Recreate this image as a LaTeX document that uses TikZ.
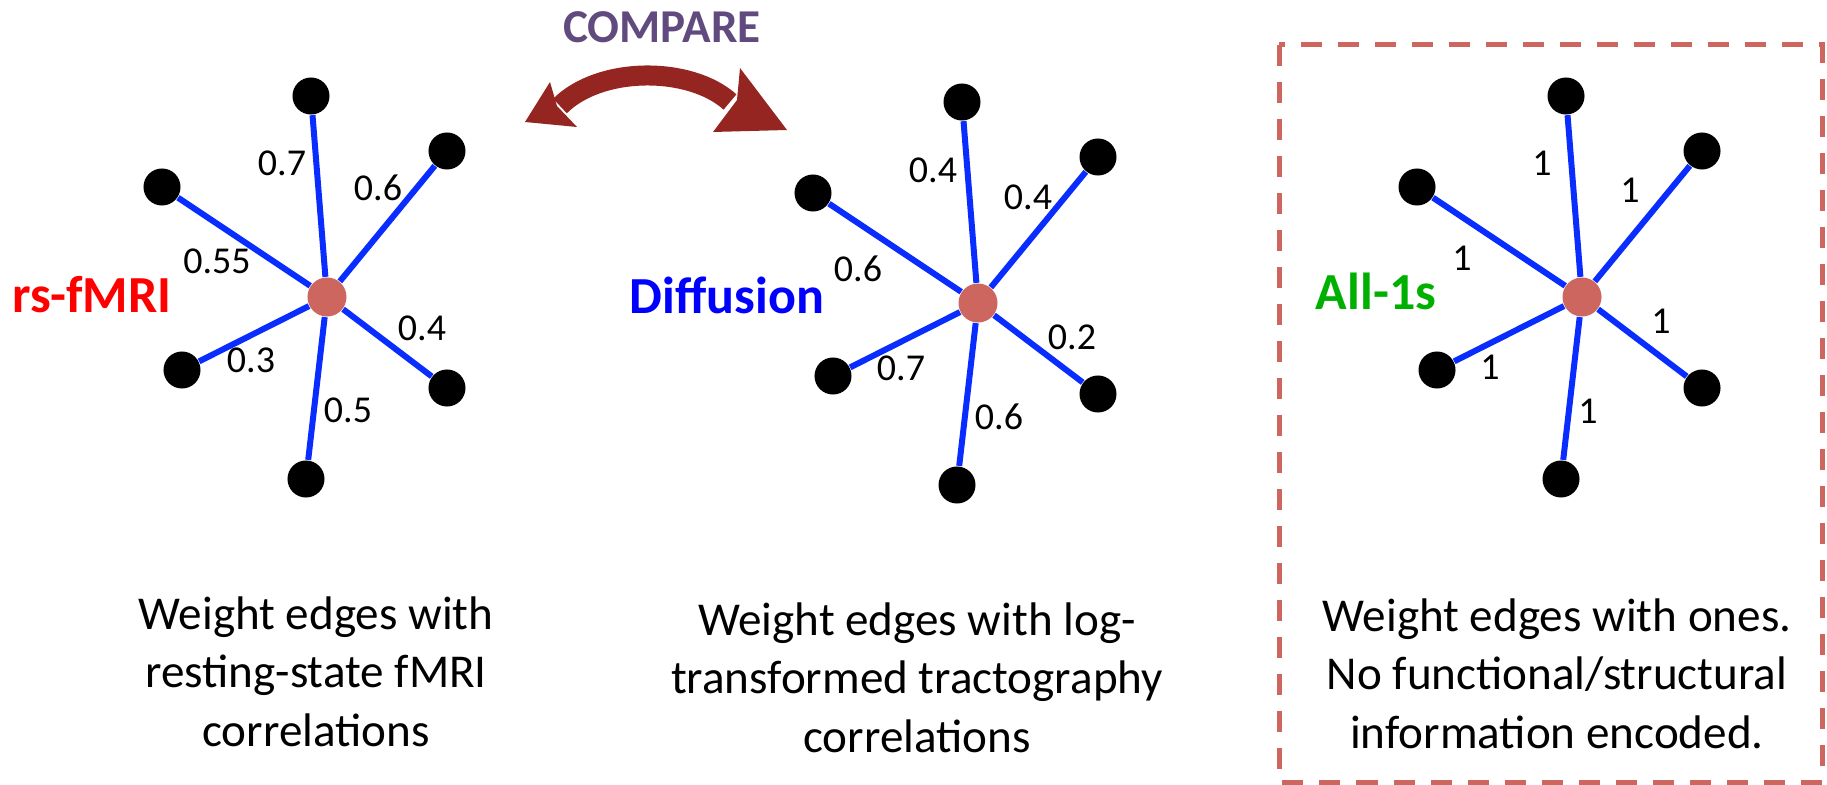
\documentclass[tikz,border=0pt]{standalone}
\usepackage{fontspec}
\setmainfont{Carlito}
\usepackage{xcolor}
\definecolor{edgeblue}{RGB}{10,45,255}
\definecolor{hubred}{RGB}{204,102,94}
\definecolor{arrowred}{RGB}{149,37,32}
\definecolor{cmppurple}{RGB}{96,74,126}
\definecolor{fmrired}{RGB}{255,0,0}
\definecolor{diffblue}{RGB}{0,0,255}
\definecolor{onesgreen}{RGB}{0,176,0}
\usepackage{tikz}
\usetikzlibrary{arrows.meta}
\tikzset{
  leaf/.style={circle,fill=black,inner sep=0pt,minimum size=3.7mm},
  hub/.style={circle,fill=hubred,inner sep=0pt,minimum size=3.9mm},
  wedge/.style={draw=edgeblue,line width=0.6mm},
  wt/.style={font=\fontsize{10.8}{12}\selectfont,inner sep=0pt},
  ttl/.style={font=\fontsize{14.8}{17}\selectfont\bfseries,anchor=base,inner sep=0pt},
  capt/.style={font=\fontsize{13.4}{16.6}\selectfont,align=center,anchor=base,inner sep=0pt},
  cmparrow/.style={draw=arrowred,line width=2mm},
  onesbox/.style={draw=hubred,line width=0.5mm,dash pattern=on 2.1mm off 1.6mm},
}

\begin{document}
\begin{tikzpicture}[x=0.01cm,y=-0.01cm]
  \useasboundingbox (0,0) rectangle (1827,785);
  % three star graphs
  \foreach \p/\cx/\cy in {a/327/297,b/978/303,c/1582/297}{
    \node[hub] (\p hub) at (\cx,\cy) {};
    \foreach \k/\dx/\dy in {t/-16/-201,ur/120/-146,l/-165/-110,ll/-145/73,lr/120/91,b/-21/182}{
      \node[leaf] (\p\k) at ({\cx+(\dx)},{\cy+(\dy)}) {};
      \draw[wedge] (\p hub) -- (\p\k);
    }
  }
  % edge weights
  \foreach \w/\lx/\ly [count=\i] in {0.7/282/163,0.6/378/188,0.55/217/261,0.4/422/328,0.3/251/360,0.5/348/410}
    \node[wt] (wa\i) at (\lx,\ly) {\w};
  \foreach \w/\lx/\ly [count=\i] in {0.4/933/170,0.4/1028/197,0.6/858/269,0.2/1072/337,0.7/901/368,0.6/999/417}
    \node[wt] (wb\i) at (\lx,\ly) {\w};
  \foreach \w/\lx/\ly [count=\i] in {1/1542/163,1/1630/190,1/1462/258,1/1661/321,1/1490/367,1/1588/411}
    \node[wt] (wc\i) at (\lx,\ly) {\w};
  % titles
  \node[ttl,text=fmrired] (ta) at (92,313) {rs-fMRI};
  \node[ttl,text=diffblue] (tb) at (727,314) {Diffusion};
  \node[ttl,text=onesgreen] (tc) at (1376,310) {All-1s};
  % captions (base = last line)
  \node[capt] (ca) at (316,746) {Weight edges with\\resting-state fMRI\\correlations};
  \node[capt] (cb) at (917,752) {Weight edges with log-\\transformed tractography\\correlations};
  \node[capt] (cc) at (1557,748) {Weight edges with ones.\\No functional/structural\\information encoded.};
  \draw[onesbox] (1279,45) rectangle (1822,782);
  % compare arrow
  \node[font=\fontsize{13.4}{16}\selectfont\bfseries,text=cmppurple,anchor=base,inner sep=0pt] (cmp) at (662,43) {COMPARE};
  \coordinate (arrL) at (560,106);
  \coordinate (arrR) at (730,102);
  \draw[cmparrow] (arrL) .. controls (600,66) and (690,66) .. (arrR);
  \fill[arrowred] (525,122) -- (550,82) -- (557,106) -- (577,127) -- cycle;
  \fill[arrowred] (787,130) -- (740,68) -- (737,100) -- (713,132) -- cycle;
\end{tikzpicture}
\end{document}
